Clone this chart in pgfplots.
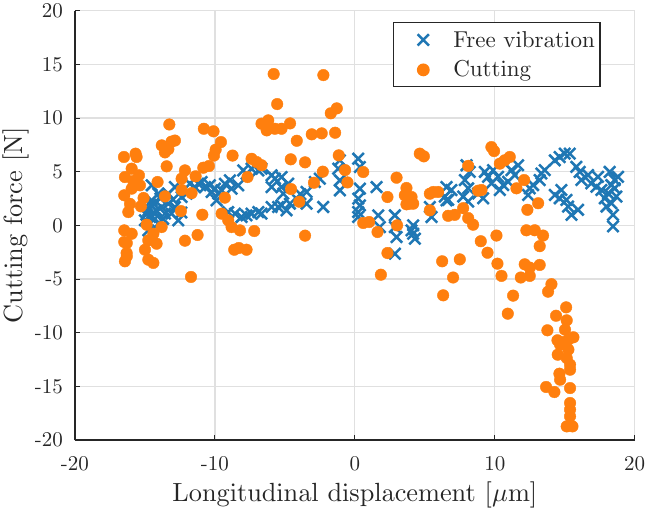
\documentclass[border=0pt]{standalone}
\usepackage{pgfplots}
\pgfplotsset{compat=1.18}

% Computer Modern at the sizes used in the figure
\font\tickfnt=cmr10 at 21bp
\font\legfnt=cmr10 at 23bp
\font\labfnt=cmr10 at 26.3bp
\font\labmath=cmmi10 at 26.3bp

\definecolor{fvblue}{RGB}{31,119,180}
\definecolor{cutorange}{RGB}{255,127,14}
\definecolor{axgray}{RGB}{38,38,38}
\definecolor{gridgray}{RGB}{224,224,224}

% Free vibration: longitudinal displacement [um], force [N]
\pgfplotstableread{
x y
-14.52 3.73
-14.05 2.95
-14.52 2.33
-14.76 1.40
-14.29 1.09
-13.81 1.71
-13.33 2.02
-13.57 1.09
-13.10 1.09
-12.86 1.71
-12.62 0.47
-14.76 -0.47
-14.05 0.16
-14.40 2.02
-13.33 2.95
-12.86 3.57
-12.38 2.64
-12.02 2.95
-11.79 3.88
-11.43 3.57
-11.19 3.88
-10.95 4.04
-10.71 3.57
-10.36 3.73
-10.24 3.11
-10.00 3.42
-9.76 2.95
-9.52 3.26
-9.88 2.33
-9.29 3.88
-8.93 4.19
-8.81 3.42
-8.33 3.73
-7.98 5.12
-7.74 4.81
-7.38 5.28
-6.90 5.12
-6.67 5.28
-5.95 4.66
-5.71 4.35
-5.24 4.50
-5.95 3.57
-5.24 3.57
-9.05 1.24
-8.57 1.09
-8.10 0.78
-7.74 0.93
-7.38 1.09
-6.90 1.24
-6.67 1.09
-5.95 1.71
-5.48 1.71
-5.24 1.86
-15.00 0.47
-14.64 0.78
-14.29 0.62
-14.90 1.00
-14.20 1.40
-13.70 0.60
-13.90 2.50
-14.60 1.90
-13.00 2.40
-12.40 1.20
-4.76 3.88
-5.12 2.95
-4.64 2.02
-4.88 1.40
-4.05 2.33
-3.90 2.90
-3.45 3.11
-3.45 2.02
-2.26 1.71
-2.50 4.35
-2.86 4.04
-1.07 6.06
-1.19 5.28
-1.07 4.19
-1.07 3.26
0.24 6.21
0.36 5.43
0.36 3.42
0.24 2.49
0.36 1.86
0.24 1.24
0.24 0.78
1.55 3.57
1.67 0.93
1.79 -0.16
2.86 0.93
2.86 -0.16
2.98 -1.09
2.86 -2.64
4.17 0.00
4.17 -0.78
4.29 -1.24
4.05 -0.47
5.48 0.78
5.36 1.71
6.55 3.57
6.55 2.33
6.43 2.68
6.90 3.29
6.67 2.37
7.98 5.60
8.21 4.98
7.86 4.22
8.10 3.45
7.74 2.68
8.10 2.22
8.81 2.98
9.17 2.52
9.29 4.98
9.52 4.52
9.88 5.14
10.24 4.52
10.36 3.29
9.76 3.91
10.60 3.75
10.95 4.06
11.19 5.14
11.43 4.68
11.67 5.60
12.50 3.45
12.38 2.83
12.74 3.75
13.33 4.83
13.57 5.14
13.21 4.22
14.29 6.06
14.64 6.37
15.00 6.68
15.36 6.68
14.29 2.83
14.64 2.52
15.12 2.37
15.24 1.75
15.95 1.45
15.48 0.98
14.76 3.29
15.83 5.45
16.07 4.98
16.19 4.22
16.67 4.68
16.90 3.91
17.26 3.60
17.38 4.52
17.62 3.29
17.86 2.52
18.10 2.98
18.33 3.75
18.57 4.22
18.21 4.98
18.57 3.45
18.33 2.06
17.98 1.75
18.45 0.98
18.45 -0.09
18.81 4.52
18.69 2.68
}\freevib

% Cutting: longitudinal displacement [um], force [N]
\pgfplotstableread{
x y
-16.50 6.37
-15.67 6.68
-15.60 6.37
-15.95 5.28
-16.43 4.50
-15.43 4.66
-15.83 4.13
-15.95 3.42
-16.48 2.80
-15.36 3.73
-15.10 2.55
-15.29 1.77
-16.07 2.00
-16.19 1.24
-14.88 0.06
-13.81 -0.16
-16.48 -0.47
-15.95 -0.78
-16.48 -1.55
-16.31 -2.58
-16.43 -3.35
-16.30 -2.89
-16.30 -1.65
-14.40 -0.78
-14.76 -1.40
-14.17 -1.71
-15.00 -2.27
-14.76 -3.20
-14.40 -3.50
-13.26 9.40
-13.10 7.80
-12.86 7.90
-13.80 7.45
-13.33 7.10
-13.57 6.80
-13.45 5.50
-14.10 4.04
-13.57 2.70
-12.38 3.30
-12.14 5.12
-12.38 4.35
-11.67 3.00
-12.43 1.33
-12.14 -1.43
-11.24 -0.90
-11.71 -4.81
-10.79 9.00
-10.10 8.76
-9.57 7.76
-9.95 7.05
-10.07 6.50
-10.83 5.37
-10.43 5.53
-11.38 4.57
-10.90 0.99
-9.29 2.58
-9.52 1.09
-9.05 0.47
-8.81 -0.16
-8.21 -0.47
-7.19 -0.53
-8.62 -2.27
-8.29 -2.11
-7.74 -2.27
-8.74 6.50
-7.38 6.20
-7.02 5.90
-6.67 5.60
-7.67 4.50
-6.67 9.47
-6.19 9.78
-6.30 8.85
-5.71 9.00
-5.24 9.00
-5.80 14.10
-5.55 11.30
-4.63 9.50
-4.15 7.88
-4.58 6.15
-3.56 5.87
-4.56 3.38
-3.97 2.20
-3.56 -0.96
-3.08 8.48
-2.37 8.57
-1.41 8.63
-2.25 14.00
-1.72 10.44
-1.29 10.90
-1.15 6.52
-0.70 5.15
-0.53 4.00
-2.29 5.00
-2.92 3.97
0.60 4.97
0.60 0.22
1.02 0.31
1.62 -0.62
1.86 -4.60
2.33 -2.58
2.33 2.64
2.98 4.44
3.02 0.00
3.69 3.48
3.57 2.80
4.05 2.64
3.93 2.02
3.69 1.96
4.17 2.02
4.64 6.68
4.93 6.43
5.36 2.95
5.60 3.11
5.95 3.11
5.36 1.40
6.24 -3.35
6.31 -6.52
6.67 0.89
7.14 0.98
7.74 1.60
7.50 -3.17
7.02 -4.86
8.10 5.54
8.10 0.68
8.45 0.06
8.81 3.23
9.05 3.29
9.00 -1.48
9.48 -2.55
9.76 7.29
9.95 6.92
10.36 5.75
10.71 6.06
11.07 6.37
10.12 -0.95
10.19 -3.57
10.48 -4.71
10.93 -8.23
11.31 -6.55
11.55 3.45
11.86 -4.86
12.10 4.22
12.33 1.45
12.26 -0.46
12.86 -0.46
13.45 -0.95
13.21 -1.94
12.14 -3.63
12.50 -3.94
13.21 -3.69
12.50 -4.71
13.10 2.06
14.05 -5.48
13.81 -6.18
15.10 -7.64
14.38 -8.42
15.14 -8.85
15.02 -9.72
13.76 -9.78
15.62 -10.43
15.26 -10.65
14.48 -10.71
14.79 -10.87
14.67 -11.12
15.26 -11.58
14.50 -12.05
15.14 -12.36
15.38 -12.98
15.38 -13.45
14.62 -13.82
14.67 -14.38
13.67 -15.06
14.26 -15.53
15.38 -15.16
15.38 -16.55
15.38 -17.17
15.38 -17.80
15.14 -18.73
15.55 -18.73
}\cutting

\begin{document}
\begin{tikzpicture}
\begin{axis}[
  scale only axis,
  width=559.7bp, height=429.3bp,
  xmin=-20, xmax=20, ymin=-20, ymax=20,
  axis lines=left,
  axis line style={-, draw=axgray, line width=1.3bp},
  xtick={-20,-10,0,10,20},
  xticklabels={-20,-10,0,10,20},
  ytick={-20,-15,-10,-5,0,5,10,15,20},
  yticklabels={-20,-15,-10,-5,0,5,10,15,20},
  tick align=inside,
  major tick length=5bp,
  tick style={draw=axgray, line width=1bp},
  grid=major,
  major grid style={draw=gridgray, line width=1.2bp},
  ticklabel style={font=\tickfnt, text=axgray, inner sep=0pt},
  xticklabel style={anchor=base, yshift=-30bp},
  yticklabel style={anchor=east, xshift=-12bp},
  xlabel={Longitudinal displacement [{\labmath\char"16}m]},
  ylabel={Cutting force [N]},
  label style={font=\labfnt, text=axgray, inner sep=0pt},
  xlabel style={at={(axis description cs:0.5,-0.1437)}, anchor=base},
  ylabel style={at={(axis description cs:-0.0822,0.5)}, anchor=south},
  legend style={
    at={(axis description cs:0.939,0.973)}, anchor=north east,
    draw=axgray, line width=1.2bp, fill=white,
    font=\legfnt, text=axgray,
    inner xsep=5bp, inner ysep=2bp,
    nodes={inner sep=0pt},
    row sep=0bp,
  },
  legend cell align=left,
  legend image code/.code={
    \path[draw=none, fill=none] (0bp,-15bp) rectangle (55bp,15bp);
    \draw[#1] plot coordinates {(25bp,0bp)};
  },
]
\addplot[only marks, mark=x, mark size=8bp, line width=2.5bp, color=fvblue]
  table[x=x, y=y] {\freevib};
\addlegendentry{Free vibration}
\addplot[only marks, mark=*, mark size=5.8bp, color=cutorange,
  mark options={draw=none, fill=cutorange}]
  table[x=x, y=y] {\cutting};
\addlegendentry{Cutting}
\end{axis}
\pgfresetboundingbox
\path ([shift={(-75bp,-71bp)}]current axis.south west)
  rectangle ([shift={(11.3bp,10.7bp)}]current axis.north east);
\end{tikzpicture}
\end{document}
